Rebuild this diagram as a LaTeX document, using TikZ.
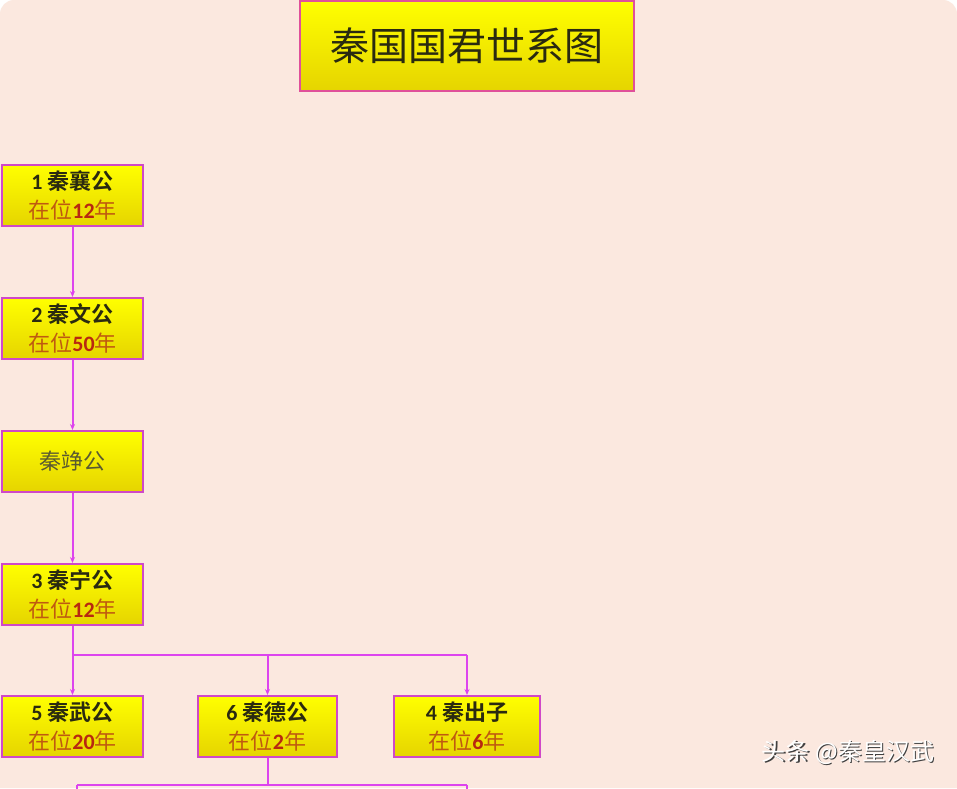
\documentclass[tikz,border=0pt]{standalone}
\usepackage{fontspec}
\setmainfont{Noto Sans CJK SC}[BoldFont={Noto Sans CJK SC Bold}]
\newfontfamily\digits{Carlito}
\usetikzlibrary{arrows.meta}
\definecolor{bgpeach}{HTML}{FBE8DF}
\definecolor{boxborder}{HTML}{D048C8}
\definecolor{titleborder}{HTML}{E0509A}
\definecolor{linkcol}{HTML}{DD44EE}
\definecolor{yeartxt}{HTML}{BF5A10}
\definecolor{numtxt}{HTML}{B82810}
\definecolor{nametxt}{HTML}{2A2A10}
\definecolor{plaintxt}{HTML}{5A5A30}
\tikzset{
  ruler/.style={draw=boxborder, line width=2pt, top color=yellow!100, bottom color=yellow!85!orange!90!black,
    minimum height=61pt, inner sep=0pt, align=center, font=\fontsize{22}{29}\selectfont},
  titlebox/.style={draw=titleborder, line width=2pt, top color=yellow, bottom color=yellow!85!orange!90!black,
    minimum width=334pt, minimum height=90pt, inner sep=0pt, font=\fontsize{39}{42}\selectfont, text=nametxt},
  link/.style={draw=linkcol, line width=2pt},
  arr/.style={link, -{Stealth[length=6pt,width=5pt]}},
}
\newcommand{\nm}[2]{{\color{nametxt}{\digits\bfseries #1} {\bfseries #2}}}
\newcommand{\yr}[1]{{\color{yeartxt}在位{\color{numtxt}\digits\bfseries #1}年}}
\begin{document}
\begin{tikzpicture}[x=1pt,y=1pt]
\useasboundingbox (0,0) rectangle (957,-788);
\fill[white] (0,0) rectangle (957,-788);
\fill[bgpeach, rounded corners=14pt] (0,0) -- (957,0) [sharp corners] -- (957,-788) -- (0,-788) [rounded corners=14pt] -- cycle;
\node[titlebox] (title) at (467,-46) {秦国国君世系图};
\node[ruler, minimum width=141pt] (r1) at (72.5,-195.5) {\nm{1}{秦襄公}\\\yr{12}};
\node[ruler, minimum width=141pt] (r2) at (72.5,-328.5) {\nm{2}{秦文公}\\\yr{50}};
\node[ruler, minimum width=141pt, text=plaintxt] (rj) at (72.5,-461.5) {秦竫公};
\node[ruler, minimum width=141pt] (r3) at (72.5,-594.5) {\nm{3}{秦宁公}\\\yr{12}};
\node[ruler, minimum width=141pt] (r5) at (72.5,-726.5) {\nm{5}{秦武公}\\\yr{20}};
\node[ruler, minimum width=139pt] (r6) at (267.5,-726.5) {\nm{6}{秦德公}\\\yr{2}};
\node[ruler, minimum width=146pt] (r4) at (467,-726.5) {\nm{4}{秦出子}\\\yr{6}};
\coordinate (busA) at (72.5,-655);
\coordinate (busB) at (467,-655);
\coordinate (busC) at (77,-785);
\coordinate (busD) at (467,-785);
\draw[arr] (r1.south) -- (r2.north);
\draw[arr] (r2.south) -- (rj.north);
\draw[arr] (rj.south) -- (r3.north);
\draw[link] (r3.south) -- (busA) -- (busB);
\draw[arr] (busA) -- (r5.north);
\draw[arr] (r6.north |- busA) -- (r6.north);
\draw[arr] (busB) -- (r4.north);
\draw[link] (r6.south) -- (r6.south |- busC);
\draw[link] (busC) -- (busD);
\draw[link] (busC) -- ++(0,-4);
\draw[link] (busD) -- ++(0,-4);
\node[font=\fontsize{24}{26}\selectfont, text=black!75, anchor=center] (wms) at (849.5,-753.5) {头条 @秦皇汉武};
\node[font=\fontsize{24}{26}\selectfont, text=white, anchor=center] (wm) at (848,-752) {头条 @秦皇汉武};
\end{tikzpicture}
\end{document}
